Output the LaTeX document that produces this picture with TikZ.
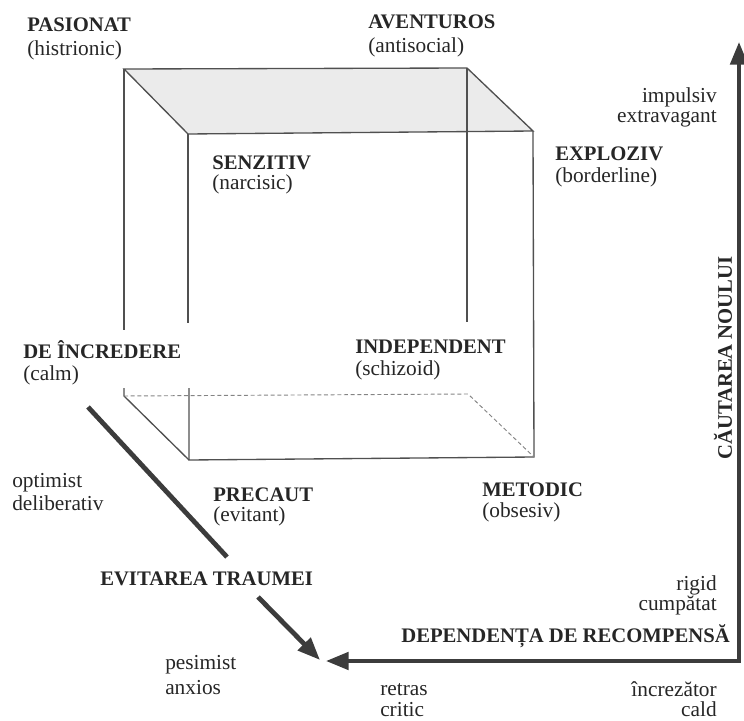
\documentclass[tikz,border=0pt]{standalone}
\usepackage{fontspec}
\setmainfont{Liberation Serif}
\usetikzlibrary{arrows.meta}
\definecolor{ink}{HTML}{505050}
\definecolor{axisgray}{HTML}{3C3C3C}

\begin{document}
\begin{tikzpicture}[x=0.75pt,y=-0.75pt,
    edge/.style={draw=ink,line width=1pt},
    hidden/.style={draw=ink!70,line width=0.7pt,dash pattern=on 3pt off 2pt},
    axisline/.style={draw=axisgray,line width=3pt},
    tip/.style={-{Triangle[length=17pt,width=13pt]}},
    typename/.style={anchor=west,inner sep=0pt,text=black!85,font=\fontsize{15.5}{18}\selectfont\bfseries},
    trait/.style={anchor=west,inner sep=0pt,text=black!85,font=\fontsize{16}{18}\selectfont},
    pole/.style={anchor=east,inner sep=0pt,text=black!85,font=\fontsize{16}{18}\selectfont},
    dimname/.style={inner sep=0pt,text=black!85,font=\fontsize{15.5}{18}\selectfont\bfseries}]
     \useasboundingbox (0,0) rectangle (744,721);
     % cube
     \coordinate (b1) at (124,69);
     \coordinate (b2) at (467,68);
     \coordinate (b3) at (468,394);
     \coordinate (b4) at (124,396);
     \coordinate (f1) at (188,134);
     \coordinate (f2) at (533,131);
     \coordinate (f3) at (534,457);
     \coordinate (f4) at (189,460);
     \fill[gray!16] (b1) -- (b2) -- (f2) -- (f1) -- cycle;
     \draw[edge] (f1) -- (b1) -- (b2) -- (f2) -- cycle;
     \draw[edge] (f2) -- (f3) -- (f4) -- (189,388);
     \draw[edge] (f1) -- (188,323);
     \draw[edge] (b1) -- (124,330);
     \draw[edge] (124,388) -- (b4) -- (f4);
     \draw[edge,line width=0.8pt] (b2) -- (467,322);
     \draw[hidden] (b4) -- (b3) -- (f3);
     % axes
     \coordinate (cn) at (739,42);
     \coordinate (origin) at (739,661);
     \coordinate (dr) at (326,661);
     \coordinate (et) at (88,407);
     \coordinate (etgap) at (227,557);
     \coordinate (etback) at (258,597);
     \coordinate (ettip) at (320,660);
     \draw[axisline,{Triangle[length=17pt,width=13pt]}-{Triangle[length=17pt,width=13pt]}] (cn) -- (origin) -- (dr);
     \draw[axisline,line width=3.6pt] (et) -- (etgap);
     \draw[axisline,line width=3.6pt,tip] (etback) -- (ettip);
     \node[dimname,rotate=90] (cautarea) at (723,358) {CĂUTAREA NOULUI};
     \node[dimname,anchor=east] (dependenta) at (730,636) {DEPENDENȚA DE RECOMPENSĂ};
     \node[dimname,anchor=west] (evitarea) at (100,579) {EVITAREA TRAUMEI};
     % types
     \node[typename] (pasionat) at (27,25) {PASIONAT};
     \node[trait] (histrionic) at (27,50) {(histrionic)};
     \node[typename] (aventuros) at (368,22) {AVENTUROS};
     \node[trait] (antisocial) at (368,47) {(antisocial)};
     \node[typename] (senzitiv) at (212,163) {SENZITIV};
     \node[trait] (narcisic) at (212,184) {(narcisic)};
     \node[typename] (exploziv) at (555,154) {EXPLOZIV};
     \node[trait] (borderline) at (555,177) {(borderline)};
     \node[typename] (incredere) at (23,350) {DE ÎNCREDERE};
     \node[trait] (calm) at (23,375) {(calm)};
     \node[typename] (independent) at (355,347) {INDEPENDENT};
     \node[trait] (schizoid) at (355,370) {(schizoid)};
     \node[typename] (precaut) at (213,495) {PRECAUT};
     \node[trait] (evitant) at (213,516) {(evitant)};
     \node[typename] (metodic) at (482,490) {METODIC};
     \node[trait] (obsesiv) at (482,512) {(obsesiv)};
     % poles
     \foreach \word/\y [count=\i] in {impulsiv/97,extravagant/119,rigid/585,cumpătat/605,încrezător/689,cald/709}
       \node[pole] (pole\i) at (717,\y) {\word};
     \foreach \word/\x/\y [count=\i] in {optimist/12/483,deliberativ/12/503,pesimist/165/665,anxios/165/688,retras/380/690,critic/380/710}
       \node[trait] (side\i) at (\x,\y) {\word};
    \end{tikzpicture}
\end{document}
